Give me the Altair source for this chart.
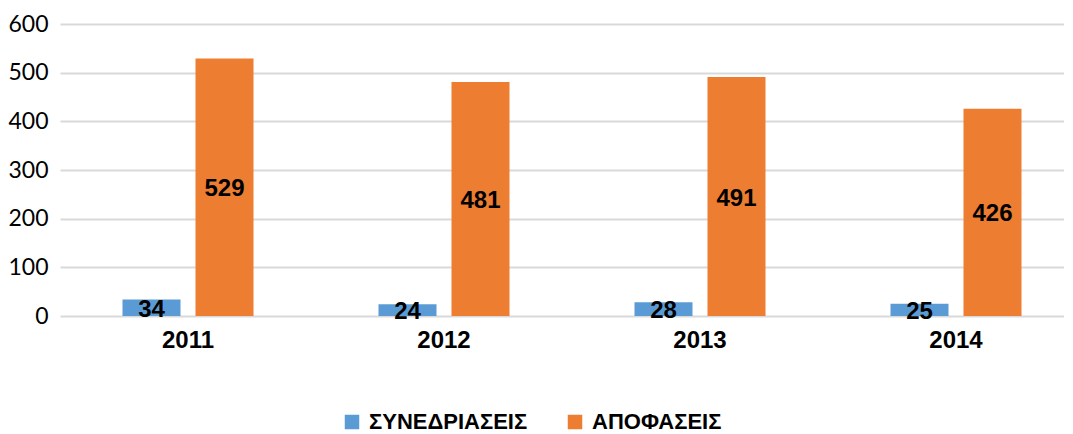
import altair as alt
import pandas as pd

years = ["2011", "2012", "2013", "2014"]
series_names = ["ΣΥΝΕΔΡΙΑΣΕΙΣ", "ΑΠΟΦΑΣΕΙΣ"]
synedriaseis = [34, 24, 28, 25]
apofaseis = [529, 481, 491, 426]
y_ticks = [0, 100, 200, 300, 400, 500, 600]
colors = ["#5B9BD5", "#ED7D31"]

rows = []
for i, yr in enumerate(years):
    rows.append({"year": yr, "series": series_names[0], "value": synedriaseis[i]})
    rows.append({"year": yr, "series": series_names[1], "value": apofaseis[i]})
df = pd.DataFrame(rows)

x_enc = alt.X(
    "year:N",
    sort=years,
    scale=alt.Scale(range=[0, 1024], paddingInner=0, paddingOuter=0),
    axis=alt.Axis(
        title=None, domain=False, ticks=False, labelAngle=0,
        labelFont="Liberation Sans", labelFontSize=24, labelFontWeight="bold",
        labelColor="#000000", labelPadding=12,
    ),
)
xoff_enc = alt.XOffset(
    "series:N", sort=series_names,
    scale=alt.Scale(paddingInner=0.2055, paddingOuter=0.856),
)

base = alt.Chart(df)

bars = base.mark_bar().encode(
    x=x_enc,
    xOffset=xoff_enc,
    y=alt.Y(
        "value:Q",
        scale=alt.Scale(domain=[0, 600], nice=False),
        axis=alt.Axis(
            title=None, values=y_ticks, domain=False, ticks=False,
            gridColor="#d9d9d9", gridWidth=2,
            labelFont="Lato", labelFontSize=23, labelColor="#000000", labelPadding=12,
        ),
    ),
    color=alt.Color(
        "series:N", sort=series_names,
        scale=alt.Scale(domain=series_names, range=colors),
        legend=alt.Legend(
            title=None, orient="none", direction="horizontal",
            legendX=281, legendY=387,
            symbolType="square", symbolSize=210, symbolStrokeWidth=0,
            labelFont="Liberation Sans", labelFontSize=22, labelFontWeight="bold",
            labelColor="#000000", columnPadding=36, labelOffset=6, labelLimit=400,
        ),
    ),
)

labels = base.transform_calculate(mid="datum.value / 2").mark_text(
    font="Liberation Sans", fontSize=24, fontWeight="bold", color="#000000",
    baseline="middle", align="center", dy=2,
).encode(
    x=x_enc,
    xOffset=xoff_enc,
    y=alt.Y("mid:Q"),
    text=alt.Text("value:Q"),
)

chart = alt.layer(bars, labels).properties(
    width=1004, height=292,
    autosize=alt.AutoSizeParams(type="none"),
    padding={"left": 52, "top": 16, "right": 0, "bottom": 118},
).configure_view(stroke=None)

chart.save("out.html", embed_options={"renderer": "svg", "actions": False})
